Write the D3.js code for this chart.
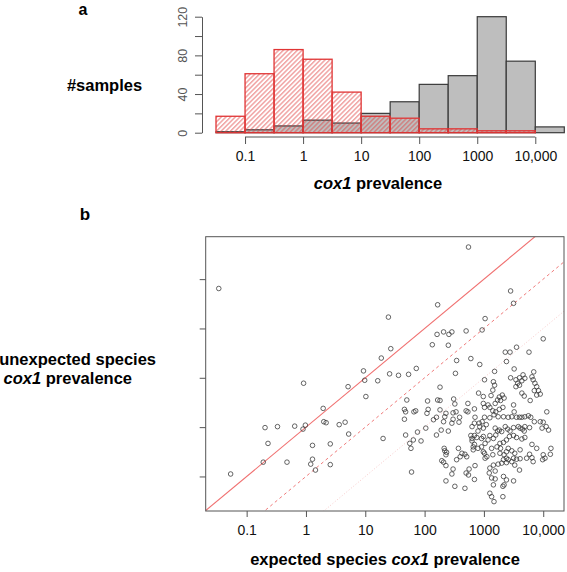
<!DOCTYPE html>
<html><head><meta charset="utf-8">
<script src="https://cdn.jsdelivr.net/npm/d3@7"></script>
<style>
body{margin:0;background:#fff}
svg{display:block}
text{font-family:"Liberation Sans",Arial,Helvetica,sans-serif}
</style>
</head><body>
<svg id="c" width="567" height="572"></svg>
<script>
// ---------- DATA ----------
// histogram (panel a): half-decade bins of cox1 prevalence
const binEdges = [0.0316, 0.1, 0.316, 1, 3.16, 10, 31.6, 100, 316, 1000, 3160, 10000, 31600];
const expectedCounts   = [1, 3, 7, 13, 10, 20, 32, 50, 59, 120, 74, 6];
const unexpectedCounts = [17, 61, 86, 76, 42, 17, 15, 4, 4, 2, 2, 0];
const histYTicks = [0, 20, 40, 60, 80, 100, 120];
const histYLabels = ["0", "", "40", "", "80", "", "120"];
const xTickValues = [0.1, 1, 10, 100, 1000, 10000];
const xTickLabels = ["0.1", "1", "10", "100", "1000", "10,000"];
const scatterYTicks = [0.1, 1, 10, 100, 1000];
const ratioLines = [1, 0.1, 0.01];

// scatter (panel b): log10 of expected / unexpected species cox1 prevalence
const expectedLog10 = [
 -1.47,1.39,1.43,1.27,0.97,1.41,1.56,-0.04,0.71,0.99,1.21,1.01,0.29,0.30,0.34,0.56,0.66,0.72,1.30,-0.69,
 -0.48,-0.19,-0.01,-0.05,-0.64,0.11,0.41,-0.72,-0.32,0.11,0.08,0.41,0.16,-1.27,
 2.74,3.45,3.50,2.22,3.02,2.21,2.32,2.41,2.46,2.70,
 2.97,2.13,2.40,4.00,3.36,3.44,3.55,3.76,2.54,2.78,
 2.93,3.38,3.51,1.73,1.86,2.52,3.18,3.01,3.84,2.26,
 3.45,3.54,3.60,3.66,3.69,3.64,3.57,3.54,3.60,3.81,
 3.83,3.86,3.89,3.85,3.92,3.95,3.89,3.64,3.68,3.78,
 3.16,3.18,3.15,4.06,3.31,3.26,3.23,3.28,3.34,3.19,
 3.10,3.15,3.20,3.26,3.32,3.17,3.24,3.33,3.41,3.47,
 3.51,3.55,3.60,3.64,3.69,3.75,3.79,3.50,2.99,3.01,
 3.07,3.12,
 1.70,2.05,2.22,2.26,2.49,2.51,2.73,1.66,1.68,1.82,1.85,2.06,2.26,2.48,2.53,2.70,2.73,2.84,1.66,2.20,
 2.34,2.48,2.59,2.85,3.01,2.04,2.15,2.36,2.91,2.99,
 2.32,2.46,2.58,2.84,2.92,2.97,2.93,2.80,2.02,1.88,1.68,1.81,1.94,1.75,1.77,2.28,2.40,2.20,2.78,2.84,
 2.80,2.88,2.80,2.84,2.82,2.33,2.34,2.37,2.36,2.57,2.63,2.68,2.60,2.54,2.71,2.82,2.90,2.96,3.01,2.29,
 2.32,2.36,2.48,2.46,2.70,2.74,2.75,2.85,1.78,2.36,2.68,2.84,2.51,2.96,2.90,
 3.10,3.85,3.95,4.00,3.04,2.99,3.19,3.23,3.26,3.30,3.36,3.40,3.44,3.50,3.58,3.61,3.65,3.69,3.68,3.77,
 3.98,4.05,4.09,2.99,3.10,3.16,3.20,3.07,3.02,3.13,3.22,3.27,3.33,3.38,3.43,3.50,3.55,3.64,3.69,3.81,
 2.99,3.05,3.02,3.15,3.41,3.38,3.47,3.61,3.34,3.38,3.33,3.41,3.47,3.50,3.55,3.61,3.72,3.77,3.81,3.83,
 4.00,4.03,3.99,4.13,4.12,3.16,3.24,3.30,3.10,3.19,3.09,3.13,3.19,3.16,3.33,3.38,3.34,3.32,3.50,3.60,
 3.10,3.13,3.17,3.32,3.52,3.89,3.52,3.38,3.27,3.28
];
const unexpectedLog10 = [
 2.81,2.23,1.59,1.40,1.14,1.08,1.05,0.89,0.82,0.95,0.94,0.62,0.38,0.11,0.09,0.05,0.10,-0.14,-0.23,-0.01,
 0.01,0.02,0.04,-0.04,-0.33,-0.37,-0.34,-0.71,-0.71,-0.65,-0.75,-0.76,-0.87,-0.95,
 3.65,2.76,2.51,2.48,2.20,1.88,1.93,1.88,1.93,1.95,
 1.97,1.67,1.66,1.79,1.52,1.52,1.62,1.52,1.35,1.39,
 1.27,1.33,1.18,1.07,1.19,1.09,1.13,0.96,1.12,0.81,
 1.00,0.96,1.00,1.06,0.99,0.94,0.89,0.82,0.85,1.02,
 0.96,0.89,0.82,0.74,0.74,0.67,0.65,0.69,0.63,0.54,
 0.92,0.85,0.75,0.31,0.65,0.61,0.55,0.54,0.59,0.48,
 0.40,0.33,0.31,0.36,0.40,0.25,0.21,0.21,0.20,0.21,
 0.31,0.20,0.20,0.20,0.21,0.23,0.20,0.45,0.48,0.40,
 0.45,0.64,
 0.55,0.53,0.55,0.54,0.57,0.47,0.48,0.36,0.31,0.31,0.33,0.36,0.35,0.29,0.31,0.33,0.31,0.37,0.16,0.20,
 0.21,0.16,0.20,0.20,0.20,0.28,0.15,0.28,0.69,0.62,
 0.11,0.08,0.10,0.08,0.08,0.11,0.01,0.01,-0.02,-0.10,-0.16,-0.26,-0.28,-0.33,-0.43,-0.06,-0.08,-0.16,-0.17,-0.17,
 -0.23,-0.21,-0.28,-0.35,-0.40,-0.43,-0.48,-0.51,-0.56,-0.43,-0.53,-0.55,-0.60,-0.66,-0.60,-0.46,-0.43,-0.40,-0.53,-0.68,
 -0.71,-0.78,-0.85,-0.95,-0.93,-0.97,-0.85,-0.78,-0.91,-1.09,-1.24,-1.06,-1.20,-0.23,-0.08,
 0.19,0.11,0.11,0.10,0.05,-0.02,-0.02,-0.08,-0.06,-0.09,0.01,-0.04,-0.08,-0.01,0.01,-0.02,-0.04,0.01,-0.08,-0.01,
 -0.02,0.01,-0.06,-0.19,-0.17,-0.23,-0.16,-0.26,-0.33,-0.43,-0.40,-0.33,-0.31,-0.26,-0.19,-0.17,-0.21,-0.24,-0.21,-0.35,
 -0.50,-0.60,-0.63,-0.56,-0.43,-0.50,-0.48,-0.46,-0.56,-0.63,-0.66,-0.66,-0.70,-0.63,-0.65,-0.64,-0.63,-0.55,-0.62,-0.70,
 -0.56,-0.63,-0.66,-0.43,-0.55,-0.77,-0.75,-0.73,-0.83,-0.89,-0.93,-1.03,-1.05,-1.17,-1.00,-1.07,-1.17,-1.20,-1.09,-0.87,
 -1.34,-1.41,-1.51,-1.41,-0.77,-0.43,-0.53,-0.72,-0.53,-0.43
];

// ---------- DRAW ----------
const svg = d3.select("#c");
const defs = svg.append("defs");
const pat = defs.append("pattern").attr("id", "hatch")
  .attr("patternUnits", "userSpaceOnUse").attr("width", 3.3).attr("height", 3.3)
  .attr("patternTransform", "rotate(45)");
pat.append("line").attr("x1", 1.6).attr("x2", 1.6).attr("y1", -1).attr("y2", 5)
  .attr("stroke", "#e04040").attr("stroke-width", 0.85).attr("stroke-opacity", 0.85);

// ----- Panel a -----
const xa = d3.scaleLog().domain([binEdges[0], binEdges[binEdges.length - 1]]).range([216, 564.3]);
const ya = d3.scaleLinear().domain([0, 120]).range([132.7, 16.7]);
const bins = expectedCounts.map((c, i) => ({ x0: binEdges[i], x1: binEdges[i + 1], e: c, u: unexpectedCounts[i] }));

const ga = svg.append("g");
ga.selectAll("rect.gray").data(bins.filter(d => d.e > 0)).join("rect")
  .attr("x", d => xa(d.x0)).attr("width", d => xa(d.x1) - xa(d.x0))
  .attr("y", d => ya(d.e)).attr("height", d => ya(0) - ya(d.e))
  .attr("fill", "#bebebe").attr("stroke", "#3a3a3a").attr("stroke-width", 1.2);
ga.selectAll("rect.red").data(bins.filter(d => d.u > 0)).join("rect")
  .attr("x", d => xa(d.x0)).attr("width", d => xa(d.x1) - xa(d.x0))
  .attr("y", d => ya(d.u)).attr("height", d => ya(0) - ya(d.u))
  .attr("fill", "url(#hatch)").attr("stroke", "#e03535").attr("stroke-width", 1.3);

// y axis a
const yAxA = svg.append("g").attr("transform", "translate(202,0)")
  .call(d3.axisLeft(ya).tickValues(histYTicks).tickFormat((d, i) => histYLabels[i]).tickSize(7).tickSizeOuter(0));
yAxA.select(".domain").attr("stroke", "#555");
yAxA.selectAll(".tick line").attr("stroke", "#555");
yAxA.selectAll(".tick text").attr("x", null).attr("dy", null).attr("y", null)
  .attr("transform", "translate(-15.5,0) rotate(-90)").attr("text-anchor", "middle")
  .attr("font-size", 12.5).attr("fill", "#555").style("font-family", '"Liberation Sans",Arial,sans-serif');

// x axis a
const xAxA = svg.append("g").attr("transform", "translate(0,137)")
  .call(d3.axisBottom(xa).tickValues(xTickValues).tickFormat((d, i) => xTickLabels[i]).tickSize(7).tickPadding(7));
xAxA.select(".domain").remove();
xAxA.append("line").attr("x1", xa(xTickValues[0])).attr("x2", xa(xTickValues[xTickValues.length - 1]))
  .attr("stroke", "#555");
xAxA.selectAll(".tick line").attr("stroke", "#555");
xAxA.selectAll(".tick text").attr("font-size", 14).attr("fill", "#111").style("font-family", '"Liberation Sans",Arial,sans-serif');

svg.append("text").attr("x", 83).attr("y", 15).attr("text-anchor", "middle")
  .attr("font-size", 16).attr("font-weight", "bold").text("a");
svg.append("text").attr("x", 104.5).attr("y", 91).attr("text-anchor", "middle")
  .attr("font-size", 16.5).attr("font-weight", "bold").text("#samples");
const xlA = svg.append("text").attr("x", 378).attr("y", 189).attr("text-anchor", "middle")
  .attr("font-size", 16.5).attr("font-weight", "bold");
xlA.append("tspan").attr("font-style", "italic").text("cox1");
xlA.append("tspan").text(" prevalence");

// ----- Panel b -----
const X0 = 205.7, X1 = 564, Y0 = 511, Y1 = 236.7;
const xb = d3.scaleLog().domain([0.0204, 22400]).range([X0, X1]);
const yb = d3.scaleLog().domain([0.01995, 7244]).range([Y0, Y1]);

defs.append("clipPath").attr("id", "clipb").append("rect")
  .attr("x", X0).attr("y", Y1).attr("width", X1 - X0).attr("height", Y0 - Y1);

const lineStyles = [
  { stroke: "#f07070", dash: null, w: 1.1 },
  { stroke: "#f07a7a", dash: "3,3", w: 1.0 },
  { stroke: "#f6c4c4", dash: "1,2", w: 0.9 }
];
const gl = svg.append("g").attr("clip-path", "url(#clipb)");
ratioLines.forEach((r, i) => {
  const xs = xb.domain();
  gl.append("path")
    .attr("d", d3.line().x(d => xb(d)).y(d => yb(d * r))(xs))
    .attr("fill", "none").attr("stroke", lineStyles[i].stroke)
    .attr("stroke-width", lineStyles[i].w)
    .attr("stroke-dasharray", lineStyles[i].dash);
});

const pts = expectedLog10.map((v, i) => ({ x: Math.pow(10, v), y: Math.pow(10, unexpectedLog10[i]) }));
svg.append("g").selectAll("circle").data(pts).join("circle")
  .attr("cx", d => xb(d.x)).attr("cy", d => yb(d.y)).attr("r", 2.3)
  .attr("fill", "none").attr("stroke", "#333").attr("stroke-width", 0.75);

svg.append("rect").attr("x", X0).attr("y", Y1).attr("width", X1 - X0).attr("height", Y0 - Y1)
  .attr("fill", "none").attr("stroke", "#555").attr("stroke-width", 1);

const xAxB = svg.append("g").attr("transform", `translate(0,${Y0})`)
  .call(d3.axisBottom(xb).tickValues(xTickValues).tickFormat((d, i) => xTickLabels[i]).tickSize(6).tickPadding(8));
xAxB.select(".domain").remove();
xAxB.selectAll(".tick line").attr("stroke", "#555");
xAxB.selectAll(".tick text").attr("font-size", 14).attr("fill", "#111").style("font-family", '"Liberation Sans",Arial,sans-serif');

const yAxB = svg.append("g").attr("transform", `translate(${X0},0)`)
  .call(d3.axisLeft(yb).tickValues(scatterYTicks).tickFormat(() => "").tickSize(6));
yAxB.select(".domain").remove();
yAxB.selectAll(".tick line").attr("stroke", "#555");

svg.append("text").attr("x", 85).attr("y", 220).attr("text-anchor", "middle")
  .attr("font-size", 17).attr("font-weight", "bold").text("b");
svg.append("text").attr("x", 156).attr("y", 365).attr("text-anchor", "end")
  .attr("font-size", 16.5).attr("font-weight", "bold").text("unexpected species");
const yl2 = svg.append("text").attr("x", 132).attr("y", 383.5).attr("text-anchor", "end")
  .attr("font-size", 16.5).attr("font-weight", "bold");
yl2.append("tspan").attr("font-style", "italic").text("cox1");
yl2.append("tspan").text(" prevalence");
const xlB = svg.append("text").attr("x", 385).attr("y", 565).attr("text-anchor", "middle")
  .attr("font-size", 16.5).attr("font-weight", "bold");
xlB.append("tspan").text("expected species ");
xlB.append("tspan").attr("font-style", "italic").text("cox1");
xlB.append("tspan").text(" prevalence");
</script>
</body></html>
